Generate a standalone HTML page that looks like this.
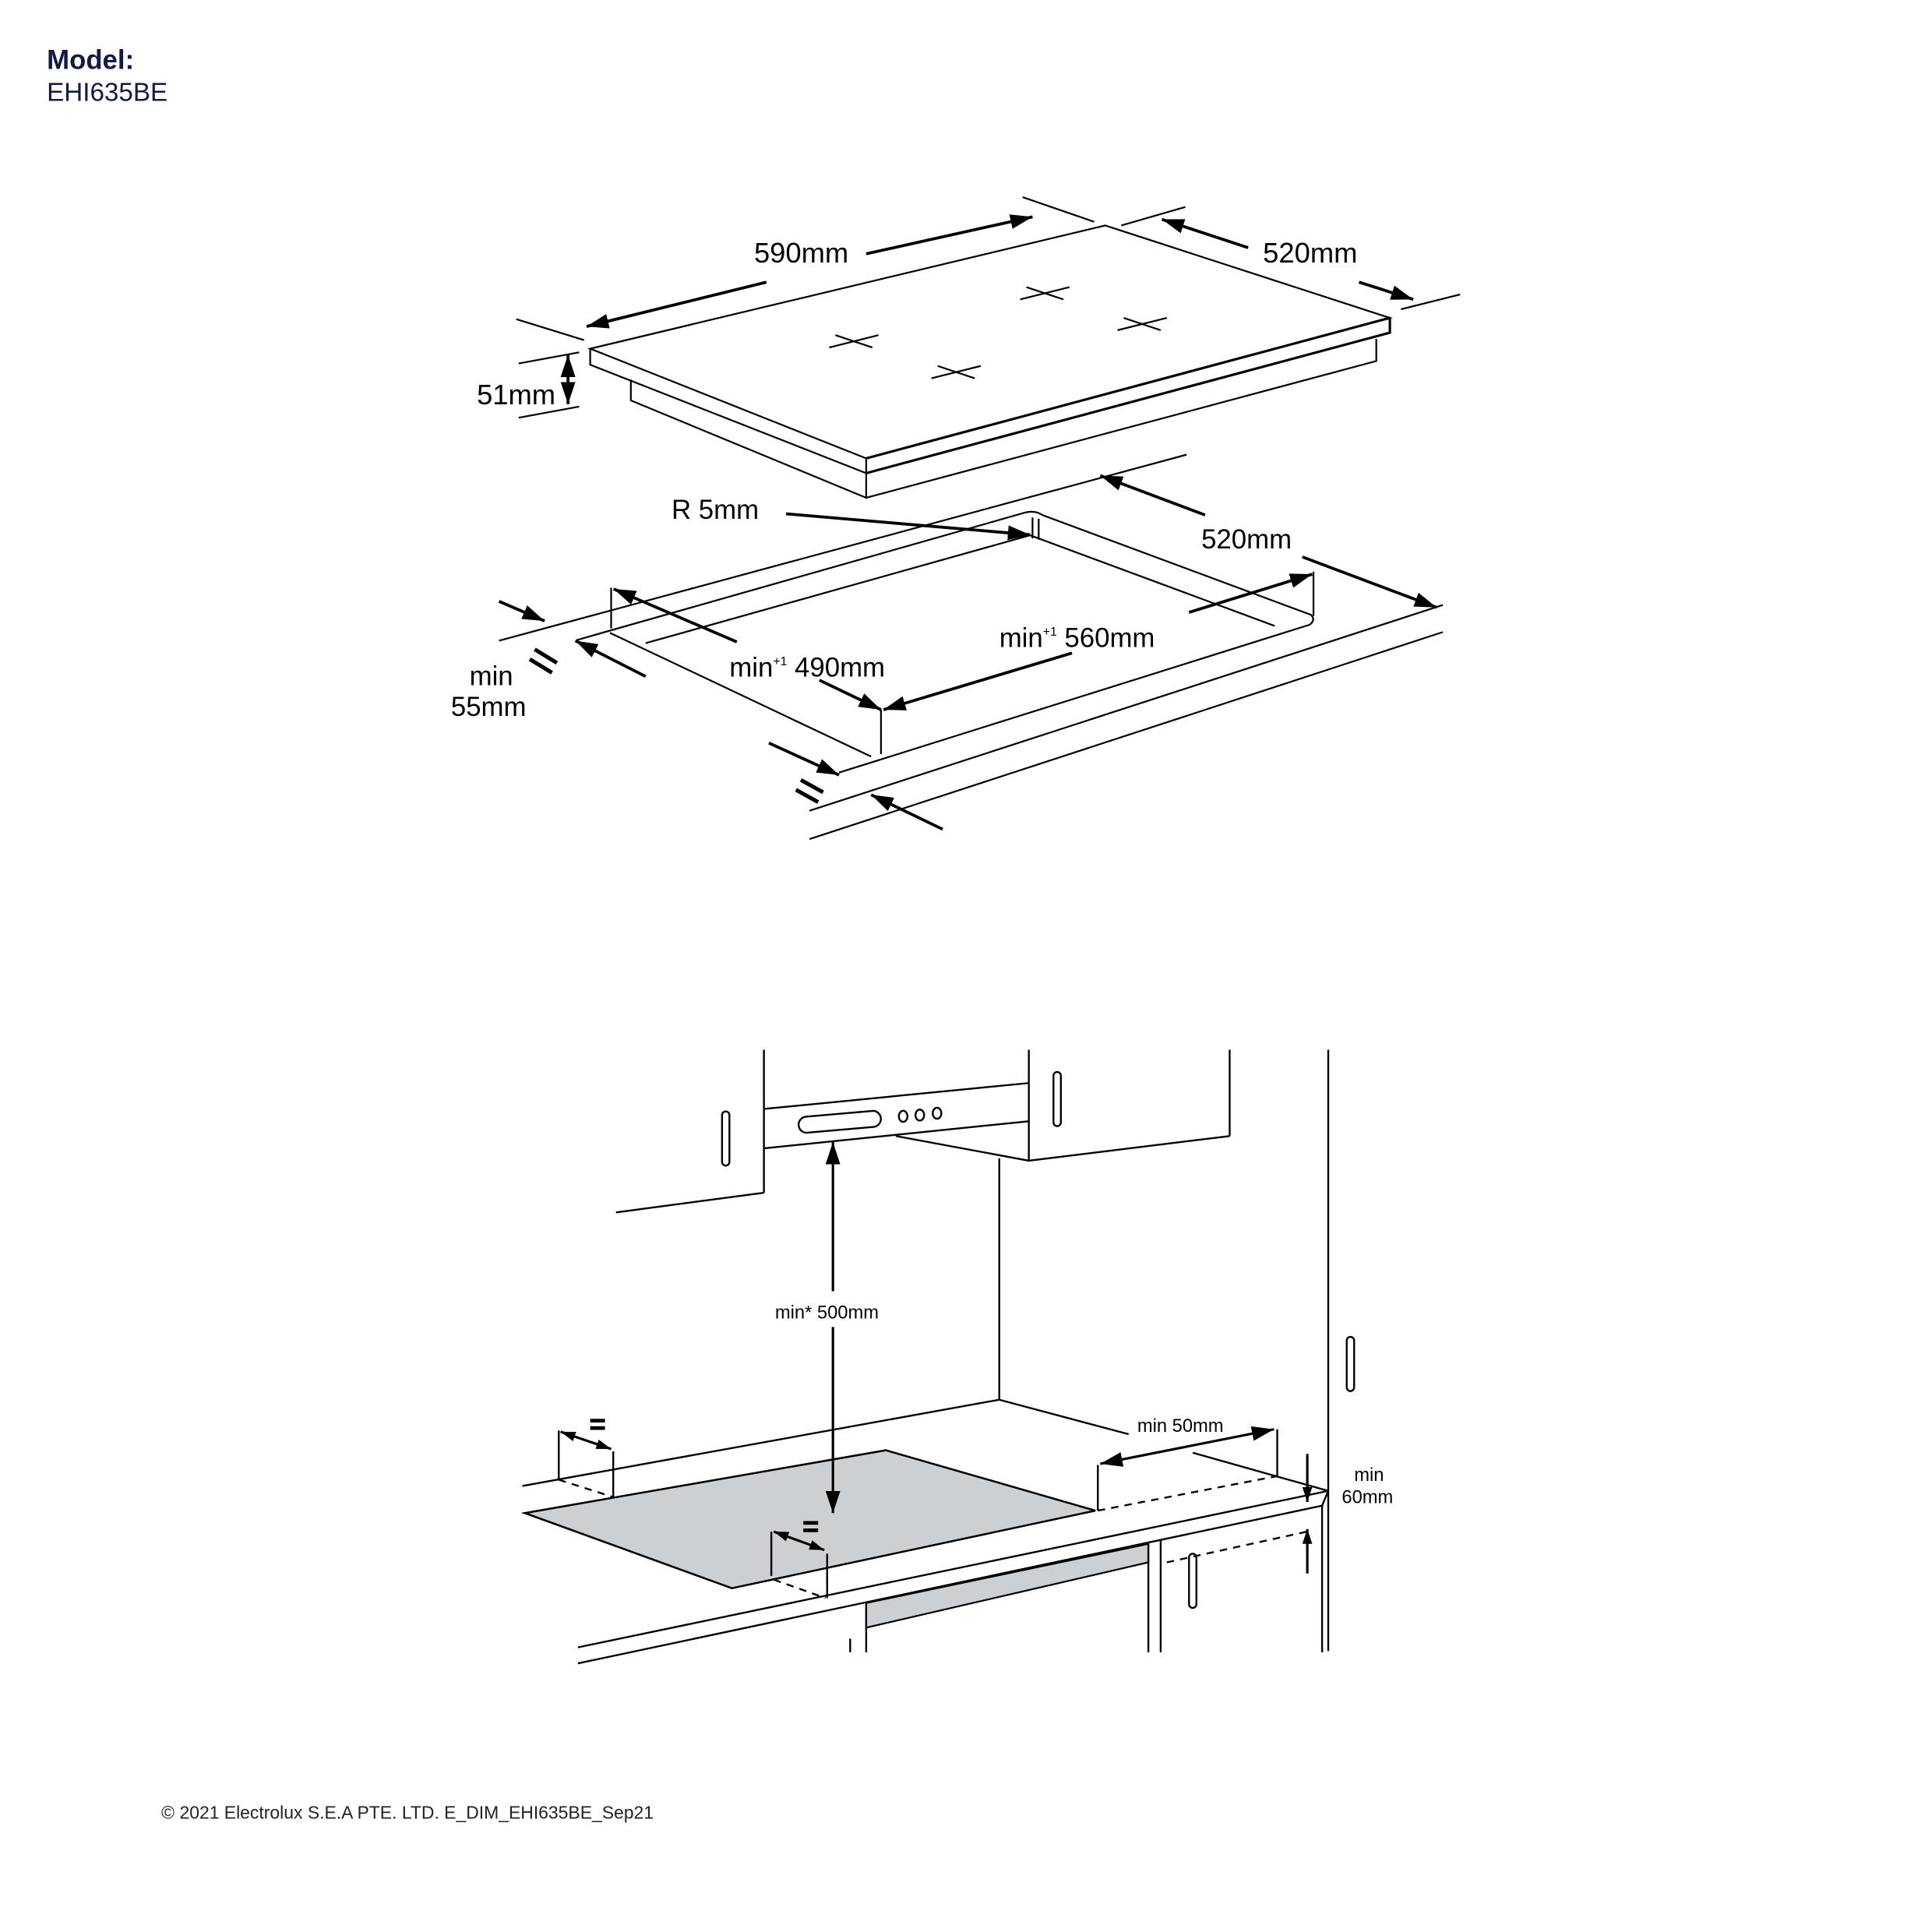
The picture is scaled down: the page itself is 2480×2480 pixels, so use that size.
<!DOCTYPE html>
<html><head><meta charset="utf-8"><style>
html,body{margin:0;padding:0;background:#fff}
svg{display:block}
text{font-family:"Liberation Sans",sans-serif;fill:#000}
</style></head><body>
<svg width="2480" height="2480" viewBox="0 0 1568 1568" xmlns="http://www.w3.org/2000/svg">
<defs>
<marker id="a" markerUnits="userSpaceOnUse" markerWidth="20" markerHeight="14" refX="18" refY="6" orient="auto-start-reverse"><path d="M0,0 L18,6 L0,12 z" fill="#000"/></marker>
<marker id="s" markerUnits="userSpaceOnUse" markerWidth="14" markerHeight="10" refX="12" refY="4" orient="auto-start-reverse"><path d="M0,0 L12,4 L0,8 z" fill="#000"/></marker>
</defs>
<text x="38" y="56" font-size="22" font-weight="bold" style="fill:#141a46">Model:</text>
<text x="38" y="82" font-size="21" style="fill:#141a46">EHI635BE</text>

<g stroke="#000" fill="none" stroke-width="1.4">
<polygon points="479,283 897,183 1128,258 703,372"/>
<polyline points="479,283 479,296 703,384 703,372"/>
<polyline points="703,384 1128,270 1128,258" stroke-width="2"/>
<polyline points="512,308 512,325 703,404 703,384"/>
<polyline points="703,404 1117,293 1117,275" />
<line x1="703" y1="372" x2="1128" y2="258" stroke-width="2"/>
<line x1="673" y1="282" x2="713" y2="272"/><line x1="678" y1="272" x2="708" y2="282"/>
<line x1="828" y1="243" x2="868" y2="233"/><line x1="833" y1="233" x2="863" y2="243"/>
<line x1="907" y1="268" x2="947" y2="258"/><line x1="912" y1="258" x2="942" y2="268"/>
<line x1="756" y1="307" x2="796" y2="297"/><line x1="761" y1="297" x2="791" y2="307"/>
<line x1="419" y1="259" x2="474" y2="276"/>
<line x1="830" y1="160" x2="888" y2="180"/>
<line x1="910" y1="183" x2="962" y2="168"/>
<line x1="1137" y1="251" x2="1185" y2="239"/>
<line x1="421" y1="295" x2="470" y2="286"/>
<line x1="421" y1="339" x2="470" y2="330"/>
</g>
<g stroke="#000" fill="none" stroke-width="2.4">
<line x1="622" y1="229" x2="476" y2="265" marker-end="url(#a)"/>
<line x1="703" y1="206" x2="838" y2="176" marker-end="url(#a)"/>
<line x1="1013" y1="201" x2="943" y2="178" marker-end="url(#a)"/>
<line x1="1103" y1="229" x2="1147" y2="243" marker-end="url(#a)"/>
<line x1="461" y1="288" x2="461" y2="328" marker-start="url(#a)" marker-end="url(#a)"/>
</g>
<text x="612" y="213" font-size="23">590mm</text>
<text x="1025" y="213" font-size="23">520mm</text>
<text x="387" y="328" font-size="23">51mm</text>

<g stroke="#000" fill="none" stroke-width="1.4">
<line x1="405" y1="520" x2="963" y2="369"/>
<path d="M468,519.5 L832,416 Q840,414 846,418 L1064,499 Q1068,503 1063,507 L681,627"/>
<line x1="495" y1="513.6" x2="707" y2="614"/>
<line x1="524" y1="522" x2="836" y2="434.4"/>
<line x1="836" y1="434.4" x2="1034.5" y2="508"/>
<line x1="1066" y1="464" x2="1066" y2="500"/>
<line x1="496" y1="477" x2="496" y2="510"/>
<line x1="715" y1="576" x2="715" y2="612"/>
<line x1="838" y1="420" x2="838" y2="437"/><line x1="843" y1="421" x2="843" y2="438"/>
<line x1="657" y1="658" x2="1171" y2="491"/>
<line x1="657" y1="681" x2="1171" y2="513"/>
</g>
<g stroke="#000" fill="none" stroke-width="2.4">
<line x1="405" y1="488" x2="442" y2="504" marker-end="url(#a)"/>
<line x1="524" y1="549" x2="467" y2="520" marker-end="url(#a)"/>
<line x1="598" y1="521" x2="498" y2="478" marker-end="url(#a)"/>
<line x1="665" y1="552" x2="715" y2="576" marker-end="url(#a)"/>
<line x1="870" y1="530" x2="717" y2="576" marker-end="url(#a)"/>
<line x1="965" y1="497" x2="1065" y2="466" marker-end="url(#a)"/>
<line x1="978" y1="418" x2="893" y2="386" marker-end="url(#a)"/>
<line x1="1057" y1="452" x2="1166" y2="493" marker-end="url(#a)"/>
<line x1="638" y1="417" x2="836" y2="434" marker-end="url(#a)"/>
<line x1="624" y1="603" x2="681" y2="629" marker-end="url(#a)"/>
<line x1="765" y1="673" x2="707" y2="645" marker-end="url(#a)"/>
</g>
<g stroke="#000" stroke-width="3.2">
<line x1="434" y1="527" x2="452" y2="538"/><line x1="430" y1="535" x2="448" y2="546"/>
<line x1="650" y1="633" x2="668" y2="643"/><line x1="646" y1="641" x2="664" y2="651"/>
</g>
<text x="545" y="421" font-size="22">R 5mm</text>
<text x="975" y="445" font-size="22">520mm</text>
<text x="811" y="525" font-size="22">min<tspan font-size="10" dy="-9">+1</tspan><tspan dy="9"> 560mm</tspan></text>
<text x="592" y="549" font-size="22">min<tspan font-size="10" dy="-9">+1</tspan><tspan dy="9"> 490mm</tspan></text>
<text x="381" y="556" font-size="22">min</text>
<text x="366" y="581" font-size="22">55mm</text>

<polygon points="426,1228 719,1177 889,1226 594,1289" fill="#cdd0d3" stroke="#000" stroke-width="1.6"/>
<polygon points="703,1301 932,1253 932,1268 703,1321" fill="#cdd0d3" stroke="#000" stroke-width="1.4"/>
<g stroke="#000" fill="none" stroke-width="1.5">
<line x1="620" y1="852" x2="620" y2="968"/>
<line x1="500" y1="984" x2="620" y2="968"/>
<rect x="586" y="902" width="6" height="44" rx="3"/>
<line x1="620" y1="900" x2="835" y2="879"/>
<line x1="620" y1="932" x2="835" y2="910"/>
<rect x="648" y="904" width="67" height="13" rx="6.5" transform="rotate(-5 681 910)"/>
<ellipse cx="733" cy="906" rx="3.5" ry="4.5"/><ellipse cx="746.5" cy="905" rx="3.5" ry="4.5"/><ellipse cx="760.5" cy="903.5" rx="3.5" ry="4.5"/>
<line x1="727" y1="922" x2="835" y2="942"/>
<line x1="835" y1="852" x2="835" y2="942"/>
<line x1="835" y1="942" x2="998" y2="922"/>
<line x1="998" y1="852" x2="998" y2="922"/>
<rect x="855" y="870" width="6" height="44" rx="3"/>
<line x1="811" y1="940" x2="811" y2="1136"/>
<line x1="1078" y1="852" x2="1078" y2="1340"/>
<rect x="1093" y="1085" width="6" height="44" rx="3"/>
<line x1="424" y1="1206" x2="811" y2="1136"/>
<line x1="811" y1="1136" x2="916" y2="1164"/>
<line x1="968" y1="1179" x2="1078" y2="1210"/>
<line x1="469" y1="1337" x2="1078" y2="1210"/>
<line x1="469" y1="1350" x2="1073" y2="1222"/>
<line x1="1078" y1="1210" x2="1073" y2="1222"/>
<line x1="453.5" y1="1161" x2="453.5" y2="1201"/>
<line x1="497.7" y1="1178" x2="497.7" y2="1215"/>
<line x1="626" y1="1243" x2="626" y2="1279"/>
<line x1="671.3" y1="1261" x2="671.3" y2="1297"/>
<line x1="891" y1="1189" x2="891" y2="1226"/>
<line x1="1036.6" y1="1160" x2="1036.6" y2="1198"/>
<g stroke-dasharray="6,5">
<line x1="453.5" y1="1201" x2="497.7" y2="1215"/>
<line x1="628" y1="1282" x2="670" y2="1297"/>
<line x1="891" y1="1226" x2="1036.6" y2="1198"/>
<line x1="947" y1="1268" x2="1061" y2="1243"/>
</g>
<line x1="690" y1="1330" x2="690" y2="1341"/>
<line x1="703" y1="1302" x2="703" y2="1341"/>
<line x1="932" y1="1253" x2="932" y2="1341"/>
<line x1="942" y1="1250" x2="942" y2="1341"/>
<line x1="1073" y1="1222" x2="1073" y2="1341"/>
<rect x="965" y="1261" width="6" height="44" rx="3"/>
</g>
<g stroke="#000" fill="none" stroke-width="2">
<line x1="676" y1="1048" x2="676" y2="927" marker-end="url(#a)"/>
<line x1="676" y1="1077" x2="676" y2="1228" marker-end="url(#a)"/>
<line x1="455" y1="1162" x2="496" y2="1176" marker-start="url(#s)" marker-end="url(#s)"/>
<line x1="628" y1="1243" x2="669" y2="1258" marker-start="url(#s)" marker-end="url(#s)"/>
<line x1="893" y1="1188" x2="1034" y2="1160" marker-start="url(#a)" marker-end="url(#a)"/>
<line x1="1061" y1="1180" x2="1061" y2="1219" marker-end="url(#s)"/>
<line x1="1061" y1="1277" x2="1061" y2="1241" marker-end="url(#s)"/>
</g>
<g stroke="#000" stroke-width="3">
<line x1="479" y1="1153" x2="491" y2="1153"/><line x1="479" y1="1159" x2="491" y2="1159"/>
<line x1="652" y1="1236" x2="664" y2="1236"/><line x1="652" y1="1242" x2="664" y2="1242"/>
</g>
<text x="629" y="1070" font-size="15">min* 500mm</text>
<text x="923" y="1162" font-size="15">min 50mm</text>
<text x="1099" y="1202" font-size="15">min</text>
<text x="1089" y="1220" font-size="15">60mm</text>
<text x="131" y="1476" font-size="14.5" style="fill:#222">© 2021 Electrolux S.E.A PTE. LTD.  E_DIM_EHI635BE_Sep21</text>
</svg>
</body></html>
